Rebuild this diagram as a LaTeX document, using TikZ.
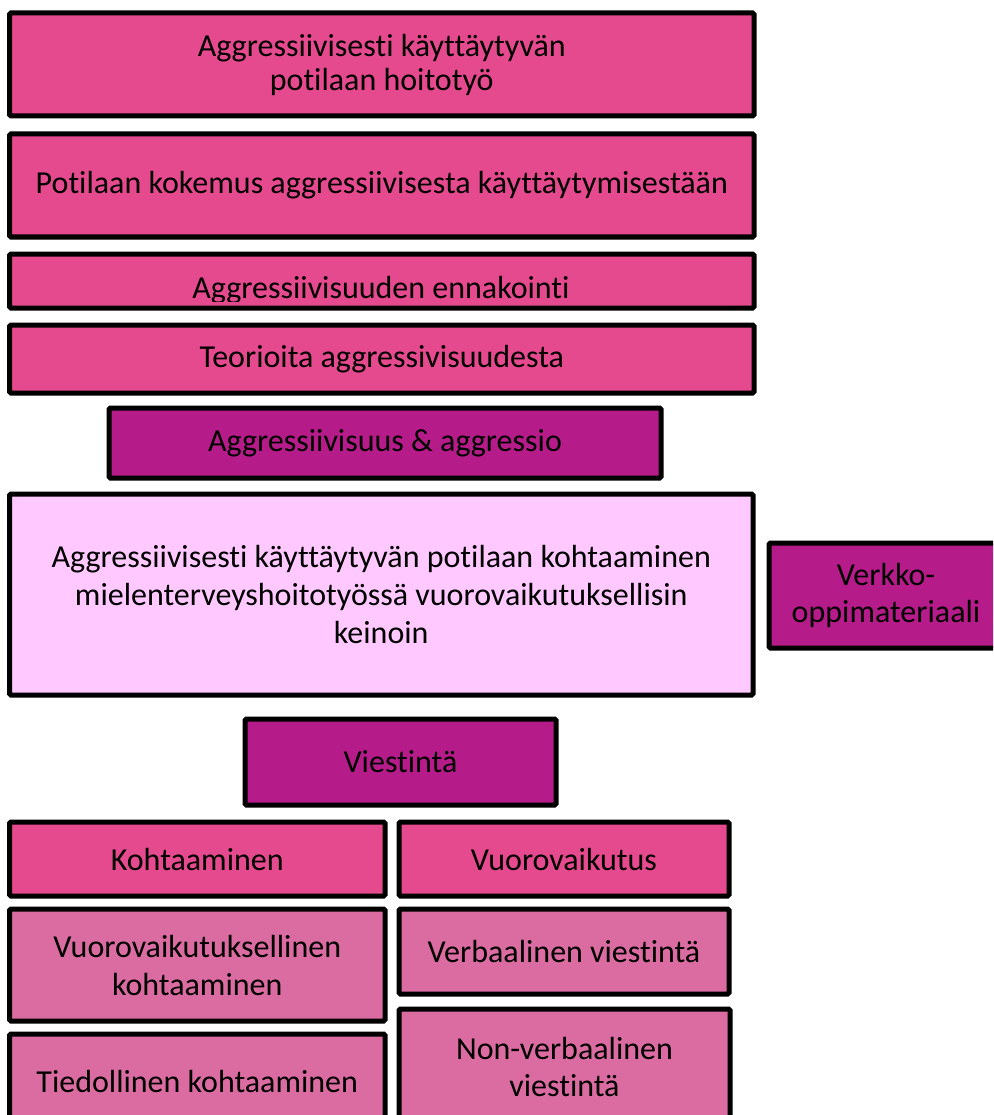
\documentclass[tikz,border=0pt]{standalone}
\usepackage{fontspec}
\setmainfont{Carlito}[Ligatures={NoCommon}]
\definecolor{pinkA}{RGB}{230,74,142}
\definecolor{purpleA}{RGB}{182,28,137}
\definecolor{lightA}{RGB}{255,200,255}
\definecolor{midA}{RGB}{219,108,161}
\begin{document}
\begin{tikzpicture}[x=1pt,y=-1pt,
  boxbase/.style={draw=black, line width=5pt, rounded corners=1.5pt, align=center, inner sep=0pt,
    font=\fontsize{32}{34}\selectfont},
  pinkbox/.style={boxbase, fill=pinkA},
  purplebox/.style={boxbase, fill=purpleA},
  lightbox/.style={boxbase, fill=lightA, font=\fontsize{32}{38}\selectfont},
  midbox/.style={boxbase, fill=midA}]
\useasboundingbox (0,0) rectangle (993,1115);
\clip (0,0) rectangle (993,1115);
% helper: box from (l,t) to (r,b)
\newcommand\mkbox[7]{%
  \node[#6, minimum width={#3-#1}, minimum height={#4-#2}] (#5) at ({(#1+#3)/2},{(#2+#4)/2}) {#7};}
\mkbox{9.5}{13}{754}{116}{b1}{pinkbox}{Aggressiivisesti käyttäytyvän\\potilaan hoitotyö}
\mkbox{9.5}{134}{754}{237}{b2}{pinkbox}{Potilaan kokemus aggressiivisesta käyttäytymisestään}
\mkbox{9.5}{254}{754}{308}{b3}{pinkbox}{}
\begin{scope}
  \clip (12,256) rectangle (752,301);
  \node[anchor=base, inner sep=0pt, font=\fontsize{32}{34}\selectfont] (t3) at (381,298) {Aggressiivisuuden ennakointi};
\end{scope}
\mkbox{9.5}{325}{754}{393}{b4}{pinkbox}{Teorioita aggressivisuudesta}
\mkbox{109}{408}{661}{478}{b5}{purplebox}{Aggressiivisuus \& aggressio}
\mkbox{9.5}{494}{753}{695}{b6}{lightbox}{Aggressiivisesti käyttäytyvän potilaan kohtaaminen\\mielenterveyshoitotyössä vuorovaikutuksellisin\\keinoin}
\mkbox{769}{543}{1003}{648}{b7}{purplebox, font=\fontsize{32}{37}\selectfont}{Verkko-\\oppimateriaali}
\mkbox{245}{719}{556}{805}{b8}{purplebox}{Viestintä}
\mkbox{9.5}{822}{385}{896}{b9}{pinkbox}{Kohtaaminen}
\mkbox{399}{822}{729}{896}{b10}{pinkbox}{Vuorovaikutus}
\mkbox{9.5}{909}{385}{1021}{b11}{midbox, font=\fontsize{32}{38}\selectfont}{Vuorovaikutuksellinen\\kohtaaminen}
\mkbox{399}{909}{729}{994}{b12}{midbox}{Verbaalinen viestintä}
\mkbox{9.5}{1034}{385}{1128}{b13}{midbox}{Tiedollinen kohtaaminen}
\mkbox{399}{1009}{730}{1124}{b14}{midbox, font=\fontsize{32}{37}\selectfont}{Non-verbaalinen\\viestintä}
\end{tikzpicture}
\end{document}
